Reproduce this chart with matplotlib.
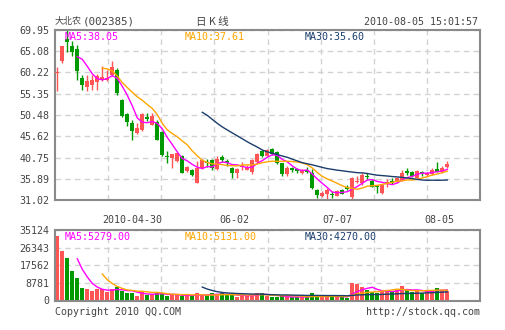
import matplotlib
matplotlib.use("Agg")
import matplotlib.pyplot as plt
import numpy as np
import pandas as pd

# --- daily bars for 002385 (oldest first) ---------------------------
opens = [60.0, 62.8, 68.0, 66.2, 65.6, 58.9, 56.9, 57.3, 58.0, 58.7,
         58.6, 59.7, 60.9, 54.0, 50.7, 48.6, 46.4, 47.0, 50.1, 48.3,
         48.9, 46.5, 41.1, 40.7, 40.0, 41.1, 37.7, 37.9, 35.0, 38.3,
         39.8, 40.2, 38.1, 40.9, 40.0, 38.3, 37.3, 38.5, 38.0, 37.5,
         39.8, 42.2, 41.2, 42.6, 42.1, 39.4, 36.9, 38.3, 38.2, 37.3,
         37.9, 37.3, 33.3, 31.9, 32.5, 32.5, 32.0, 33.3, 34.1, 31.8,
         35.1, 34.8, 36.5, 35.45, 34.3, 32.6, 34.6, 35.4, 35.2, 35.6,
         37.7, 37.4, 36.1, 37.4, 36.7, 36.9, 38.1, 37.5, 38.6]
highs = [61.5, 66.4, 69.95, 67.4, 66.6, 59.7, 59.7, 59.7, 59.8, 61.6,
         60.9, 62.8, 61.3, 54.1, 51.0, 49.4, 48.6, 51.0, 50.9, 50.9,
         49.3, 46.8, 42.3, 41.6, 41.8, 41.3, 38.8, 38.2, 40.0, 40.5,
         40.5, 40.5, 41.0, 41.3, 40.3, 38.5, 38.3, 39.8, 39.0, 40.5,
         41.8, 42.5, 42.7, 42.9, 42.3, 39.6, 38.9, 38.6, 38.4, 38.2,
         38.6, 38.2, 33.5, 33.0, 33.7, 33.0, 33.3, 33.6, 34.4, 36.3,
         36.6, 37.1, 37.3, 35.8, 34.5, 34.6, 35.8, 36.0, 36.3, 37.9,
         38.4, 37.6, 37.8, 37.6, 37.5, 38.4, 39.8, 38.7, 40.0]
lows = [56.0, 62.3, 64.9, 63.9, 58.6, 56.1, 56.05, 56.1, 56.3, 58.2,
        58.2, 59.4, 55.1, 50.1, 47.9, 44.8, 46.2, 46.9, 49.2, 48.1,
        44.7, 41.2, 39.4, 38.3, 39.8, 37.2, 37.5, 36.5, 35.0, 38.1,
        38.6, 38.0, 38.0, 39.8, 38.7, 36.0, 36.0, 38.0, 37.8, 37.0,
        39.5, 40.9, 41.0, 41.3, 39.2, 36.5, 36.5, 37.5, 37.2, 37.0,
        37.1, 33.6, 31.4, 31.6, 31.02, 31.5, 31.9, 32.3, 33.2, 31.02,
        34.9, 34.5, 35.5, 33.9, 32.6, 32.5, 34.0, 34.7, 35.0, 35.4,
        36.7, 36.4, 36.0, 36.6, 36.5, 36.7, 37.4, 37.3, 38.4]
closes = [60.4, 66.2, 67.2, 64.9, 60.5, 57.4, 58.2, 58.6, 59.35, 59.1,
          59.0, 61.4, 55.5, 50.2, 48.9, 46.9, 47.5, 50.7, 49.6, 50.2,
          44.8, 41.3, 40.8, 41.5, 41.7, 37.3, 38.6, 36.75, 38.3, 40.2,
          39.5, 38.3, 40.3, 40.2, 39.6, 37.1, 38.1, 38.7, 38.6, 40.2,
          41.5, 41.2, 42.5, 41.55, 39.4, 36.9, 38.4, 37.9, 37.7, 38.0,
          37.5, 33.7, 32.2, 32.7, 33.3, 32.2, 33.1, 32.5, 33.5, 36.1,
          35.4, 36.7, 36.3, 34.0, 33.9, 34.45, 35.25, 35.0, 36.1, 37.25,
          37.2, 36.6, 37.6, 37.2, 37.2, 38.0, 37.5, 38.4, 39.15]
volumes = [32290, 24650, 21030, 14740, 11110, 6150, 5660, 4830, 5660, 5660,
           4000, 5660, 6490, 4830, 3670, 3670, 2020, 4000, 2850, 3180,
           4000, 3180, 2020, 2850, 2850, 2020, 2850, 2020, 3670, 2850,
           2500, 3500, 3000, 3500, 3000, 2500, 1500, 2500, 2500, 3200,
           3670, 3670, 2020, 1690, 1690, 2020, 2020, 1520, 1520, 2020,
           1690, 3670, 1690, 2020, 2020, 1950, 2020, 1690, 1450, 8960,
           8130, 6490, 5330, 4000, 3670, 4830, 5330, 4500, 5330, 7000,
           5200, 4300, 4615, 3800, 5000, 5300, 6400, 4900, 4795]

date_labels = ["2010-04-30", "06-02", "07-07", "08-05"]
price_labels = ["31.02", "35.89", "40.75", "45.62", "50.48",
                "55.35", "60.22", "65.08", "69.95"]
vol_labels = ["0", "8781", "17562", "26343", "35124"]

RED = "#ff5555"
GREEN = "#009900"
MA_COLORS = {5: "#ff00ff", 10: "#ffa500", 30: "#1b3d6b"}
TEXT = "#444444"
MONO = "DejaVu Sans Mono"
CJK = ["Noto Sans CJK SC", "DejaVu Sans"]

o = np.array(opens)
h = np.array(highs)
l = np.array(lows)
c = np.array(closes)
v = np.array(volumes)
x = np.arange(len(c))
bar_colors = np.where(c >= o, RED, GREEN)

price_ma = {n: pd.Series(c).rolling(n).mean() for n in (5, 10, 30)}
vol_ma = {n: pd.Series(v, dtype=float).rolling(n).mean() for n in (5, 10, 30)}

W, H = 505, 330
fig = plt.figure(figsize=(W / 100, H / 100), dpi=100)
fig.patch.set_facecolor("white")


def px(xp, yp):
    return xp / W, 1 - yp / H


ax = fig.add_axes([55 / W, 1 - 200 / H, 425 / W, 170 / H])
axv = fig.add_axes([55 / W, 1 - 300.5 / H, 425 / W, 70.5 / H])

x_lo, x_hi = -0.46, 84.54
for a in (ax, axv):
    a.set_xlim(x_lo, x_hi)
    for s in a.spines.values():
        s.set_color("#8a8a8a")
        s.set_linewidth(1.5)
    a.tick_params(length=0, labelsize=7.2, labelcolor=TEXT, pad=4)
    for k in range(1, 8):
        a.axvline(x_lo + k * (x_hi - x_lo) / 8, color="#d2d2d2",
                  lw=1, ls=(0, (4, 3)), zorder=0)
    a.grid(axis="y", color="#d2d2d2", lw=1, ls=(0, (4, 3)), zorder=0)
    a.set_axisbelow(True)

# --- price panel: candles + moving averages ------------------------
ax.vlines(x, l, h, colors=bar_colors, lw=1, zorder=2)
ax.bar(x, np.maximum(np.abs(c - o), 0.12), bottom=np.minimum(o, c),
       width=0.8, color=bar_colors, linewidth=0, zorder=3)
for n, ser in price_ma.items():
    ax.plot(x, ser, color=MA_COLORS[n], lw=1, zorder=4)

ax.set_ylim(31.02, 69.95)
ax.set_yticks([float(t) for t in price_labels])
ax.set_yticklabels(price_labels, family=MONO)
ax.set_xticks([15, 35.5, 56, 76.5])
ax.set_xticklabels(date_labels, family=MONO)
ax.tick_params(axis="x", pad=11)

# --- volume panel ---------------------------------------------------
axv.bar(x, v, width=0.8, color=bar_colors, linewidth=0, zorder=2)
for n, ser in vol_ma.items():
    axv.plot(x, ser, color=MA_COLORS[n], lw=1, zorder=3)
axv.set_ylim(0, 35124)
axv.set_yticks([float(t) for t in vol_labels])
axv.set_yticklabels(vol_labels, family=MONO)
axv.set_xticks([])

# --- moving average captions ---------------------------------------
label_x = {5: 65, 10: 185, 30: 305}
for n in (5, 10, 30):
    fig.text(*px(label_x[n], 36.5), f"MA{n}:{round(price_ma[n].iloc[-1], 4):.2f}",
             color=MA_COLORS[n], family=MONO, fontsize=7.2, va="center")
    fig.text(*px(label_x[n], 236.5), f"MA{n}:{round(vol_ma[n].iloc[-1], 4):.2f}",
             color=MA_COLORS[n], family=MONO, fontsize=7.2, va="center")

# --- header and footer ---------------------------------------------
fig.text(*px(55, 21.5), "大北农", family=CJK, fontsize=6.5, color=TEXT, va="center")
fig.text(*px(82.5, 21.5), "(002385)", family=MONO, fontsize=7.8, color=TEXT, va="center")
fig.text(*px(212, 21.5), "日 K 线", family=CJK, fontsize=7.6, color=TEXT,
         va="center", ha="center")
fig.text(*px(478, 22), "2010-08-05 15:01:57", family=MONO, fontsize=7.2,
         color=TEXT, va="center", ha="right")
fig.text(*px(55, 312), "Copyright 2010 QQ.COM", family=MONO, fontsize=7.2,
         color=TEXT, va="center")
fig.text(*px(480, 312), "http://stock.qq.com", family=MONO, fontsize=7.2,
         color=TEXT, va="center", ha="right")

fig.savefig("out.png", dpi=100, facecolor="white")
